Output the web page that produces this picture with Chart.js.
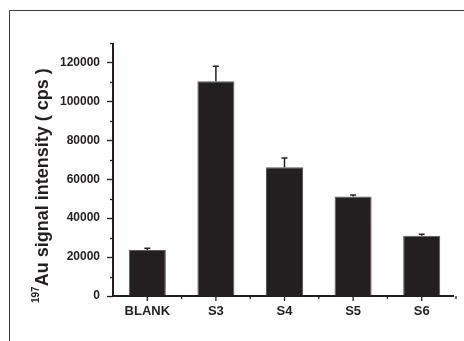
<!DOCTYPE html>
<html>
<head>
<meta charset="utf-8">
<script src="https://cdn.jsdelivr.net/npm/chart.js@4"></script>
<style>
  html, body { margin: 0; padding: 0; background: #fff; }
  #wrap { position: relative; width: 464px; height: 341px; }
</style>
</head>
<body>
<div id="wrap"><canvas id="grafico" width="464" height="341"></canvas></div>
<script>
// amostras e intensidade do sinal 197Au (cps)
const amostras = ['BLANK', 'S3', 'S4', 'S5', 'S6'];
const intensidade = [23700, 110300, 66200, 51100, 31000];
const erro = [800, 7800, 4700, 800, 700];
const ticksY = [0, 20000, 40000, 60000, 80000, 100000, 120000];

const corBarra = '#231f20';
const corEixo = '#231f20';
const fonte = '"Liberation Sans", Arial, sans-serif';

// desenha a moldura, o título do eixo y, os ticks e as barras de erro
const extras = {
    id: 'extras',
    beforeDraw(chart) {
        const ctx = chart.ctx;
        ctx.save();
        ctx.strokeStyle = '#3a3a3a';
        ctx.lineWidth = 1;
        ctx.beginPath();
        ctx.moveTo(9.5, 341);
        ctx.lineTo(9.5, 10.5);
        ctx.lineTo(464, 10.5);
        ctx.stroke();
        ctx.restore();
    },
    afterDatasetsDraw(chart) {
        const ctx = chart.ctx;
        const y = chart.scales.y;
        const x = chart.scales.x;
        const meta = chart.getDatasetMeta(0);

        ctx.save();
        ctx.strokeStyle = corBarra;
        ctx.lineWidth = 1.5;
        meta.data.forEach((bar, i) => {
            const topo = y.getPixelForValue(intensidade[i]);
            const fim = y.getPixelForValue(intensidade[i] + erro[i]);
            ctx.beginPath();
            ctx.moveTo(bar.x, topo);
            ctx.lineTo(bar.x, fim);
            ctx.moveTo(bar.x - 3, fim);
            ctx.lineTo(bar.x + 3, fim);
            ctx.stroke();
        });

        // eixos
        ctx.strokeStyle = corEixo;
        ctx.lineWidth = 2;
        const base = y.getPixelForValue(0);
        ctx.beginPath();
        ctx.moveTo(x.left, base);
        ctx.lineTo(x.right - 2, base);
        ctx.moveTo(x.left, base);
        ctx.lineTo(x.left, y.top);
        ctx.stroke();

        // ticks do eixo y (maiores e menores)
        ctx.lineWidth = 1.3;
        for (let v = 0; v <= 130000; v += 10000) {
            const py = Math.round(y.getPixelForValue(v)) + 0.5;
            const len = v % 20000 === 0 ? 6 : 3;
            ctx.beginPath();
            ctx.moveTo(x.left, py);
            ctx.lineTo(x.left - len, py);
            ctx.stroke();
        }

        // ticks do eixo x
        amostras.forEach((a, i) => {
            const px = x.getPixelForValue(i);
            ctx.beginPath();
            ctx.moveTo(px, base);
            ctx.lineTo(px, base + 5);
            ctx.stroke();
            const borda = px + (x.getPixelForValue(1) - x.getPixelForValue(0)) / 2;
            ctx.beginPath();
            ctx.moveTo(borda, base);
            ctx.lineTo(borda, base + 3);
            ctx.stroke();
        });

        // título do eixo y com sobrescrito
        ctx.fillStyle = corEixo;
        ctx.translate(48, 303);
        ctx.rotate(-Math.PI / 2);
        ctx.textBaseline = 'alphabetic';
        ctx.textAlign = 'left';
        ctx.font = 'bold 10px ' + fonte;
        ctx.fillText('197', 0, -9);
        const w = ctx.measureText('197').width;
        ctx.font = 'bold 18px ' + fonte;
        ctx.fillText('Au signal intensity ( cps )', w, 0);
        ctx.restore();
    }
};

new Chart(document.getElementById('grafico'), {
    type: 'bar',
    data: {
        labels: amostras,
        datasets: [{
            data: intensidade,
            backgroundColor: corBarra,
            borderColor: '#5b5758',
            borderWidth: 1,
            barPercentage: 0.54,
            categoryPercentage: 1
        }]
    },
    options: {
        responsive: false,
        animation: false,
        layout: { padding: { top: 43, right: 8, left: 0, bottom: 0 } },
        plugins: {
            legend: { display: false },
            tooltip: { enabled: false }
        },
        scales: {
            x: {
                offset: true,
                grid: { display: false },
                border: { display: false },
                ticks: {
                    color: corEixo,
                    padding: 0,
                    font: { family: fonte, size: 13, weight: 'bold' }
                },
                afterFit(scale) { scale.height = 45; }
            },
            y: {
                min: 0,
                max: 130000,
                grid: { display: false },
                border: { display: false },
                afterBuildTicks(scale) {
                    scale.ticks = ticksY.map(v => ({ value: v }));
                },
                ticks: {
                    color: corEixo,
                    padding: 5,
                    callback: (v) => String(v),
                    font: { family: fonte, size: 12, weight: 'bold' }
                },
                afterFit(scale) { scale.width = 113; }
            }
        }
    },
    plugins: [extras]
});
</script>
</body>
</html>
